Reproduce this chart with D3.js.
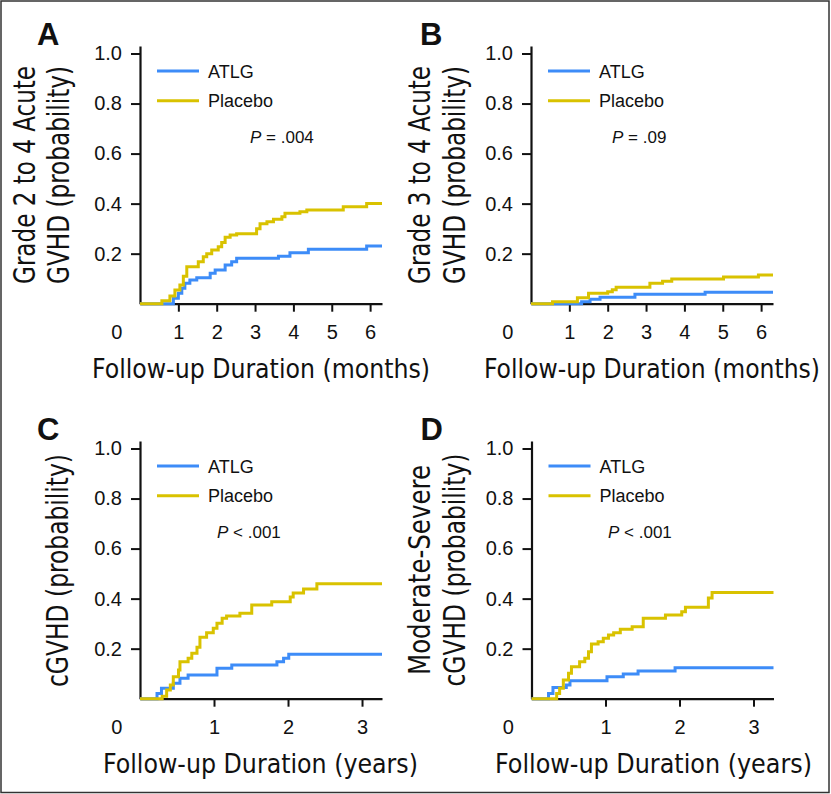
<!DOCTYPE html>
<html>
<head>
<meta charset="utf-8">
<script src="https://d3js.org/d3.v7.min.js"></script>
<style>
  body { margin: 0; background: #fff; }
  text { font-family: "Liberation Sans", Arial, sans-serif; fill: #111; }
  .title { font-family: "Liberation Sans Narrow", "DejaVu Sans Condensed", sans-serif; }
</style>
</head>
<body>
<div id="chart"></div>
<script>
// cumulative incidence step points: [time, probability]
const atlgA = [[0.87, 0.022], [1.0, 0.042], [1.09, 0.062], [1.17, 0.082], [1.30, 0.095], [1.48, 0.104],
  [1.83, 0.122], [1.96, 0.135], [2.22, 0.155], [2.39, 0.168], [2.52, 0.182], [3.61, 0.19],
  [3.91, 0.204], [4.39, 0.218], [5.91, 0.231]]
const placeboA = [[0.57, 0.012], [0.78, 0.031], [0.91, 0.055], [1.04, 0.075], [1.13, 0.11], [1.22, 0.148],
  [1.52, 0.168], [1.65, 0.188], [1.74, 0.2], [1.87, 0.215], [2.04, 0.228], [2.13, 0.245],
  [2.22, 0.266], [2.35, 0.275], [2.52, 0.28], [3.04, 0.30], [3.13, 0.32], [3.31, 0.328],
  [3.48, 0.338], [3.70, 0.348], [3.78, 0.362], [4.17, 0.368], [4.35, 0.375], [5.30, 0.388], [5.91, 0.40]]

const atlgB = [[1.32, 0.008], [1.54, 0.018], [1.80, 0.026], [2.71, 0.038], [4.54, 0.046]]
const placeboB = [[0.56, 0.008], [1.21, 0.024], [1.50, 0.042], [2.0, 0.048], [2.12, 0.056], [2.22, 0.066],
  [3.10, 0.082], [3.43, 0.09], [3.67, 0.099], [5.02, 0.107], [5.93, 0.115]]

const atlgC = [[0.23, 0.021], [0.29, 0.042], [0.45, 0.062], [0.54, 0.082], [0.65, 0.095], [1.04, 0.122],
  [1.24, 0.135], [1.85, 0.148], [1.94, 0.162], [2.01, 0.178]]
const placeboC = [[0.30, 0.01], [0.36, 0.035], [0.41, 0.055], [0.45, 0.088], [0.52, 0.115], [0.54, 0.148],
  [0.65, 0.162], [0.70, 0.182], [0.77, 0.206], [0.81, 0.246], [0.90, 0.264], [0.99, 0.282],
  [1.04, 0.302], [1.11, 0.322], [1.17, 0.331], [1.35, 0.342], [1.51, 0.375], [1.78, 0.388],
  [2.03, 0.406], [2.07, 0.422], [2.21, 0.438], [2.39, 0.459]]

const atlgD = [[0.23, 0.021], [0.29, 0.045], [0.47, 0.055], [0.52, 0.072], [1.02, 0.088], [1.24, 0.099],
  [1.44, 0.111], [1.94, 0.124]]
const placeboD = [[0.34, 0.021], [0.38, 0.042], [0.43, 0.075], [0.50, 0.102], [0.54, 0.128], [0.65, 0.148],
  [0.72, 0.162], [0.77, 0.188], [0.81, 0.219], [0.90, 0.228], [0.97, 0.242], [1.04, 0.255],
  [1.11, 0.264], [1.20, 0.278], [1.36, 0.288], [1.51, 0.322], [1.81, 0.335], [2.03, 0.348],
  [2.08, 0.366], [2.39, 0.402], [2.44, 0.424]]

const monthTicks = [1, 2, 3, 4, 5, 6]
const yearTicks = [1, 2, 3]
const probTicks = [0.2, 0.4, 0.6, 0.8, 1.0]
const seriesNames = ["ATLG", "Placebo"]
const colors = ["#3d8cf8", "#d9c200"]

const panels = [
  { letter: "A", atlg: atlgA, placebo: placeboA, xMax: 6.31, xTicks: monthTicks, pText: ["P", " = .004"],
    yTitle: ["Grade 2 to 4 Acute", "GVHD (probability)"], xTitle: "Follow-up Duration (months)",
    ox: 140, oy: 0, letterDx: -103, pDx: 110, yTitleDx: [-105, -71], yTitleW: [218, 218],
    xTitleCx: 261, xTitleW: 338 },
  { letter: "B", atlg: atlgB, placebo: placeboB, xMax: 6.31, xTicks: monthTicks, pText: ["P", " = .09"],
    yTitle: ["Grade 3 to 4 Acute", "GVHD (probability)"], xTitle: "Follow-up Duration (months)",
    ox: 531, oy: 0, letterDx: -111, pDx: 81, yTitleDx: [-101, -66], yTitleW: [218, 218],
    xTitleCx: 652, xTitleW: 336 },
  { letter: "C", atlg: atlgC, placebo: placeboC, xMax: 3.27, xTicks: yearTicks, pText: ["P", " < .001"],
    yTitle: ["cGVHD (probability)"], xTitle: "Follow-up Duration (years)",
    ox: 140, oy: 395, letterDx: -103, pDx: 77, yTitleDx: [-72], yTitleW: [233],
    xTitleCx: 260.5, xTitleW: 315 },
  { letter: "D", atlg: atlgD, placebo: placeboD, xMax: 3.27, xTicks: yearTicks, pText: ["P", " < .001"],
    yTitle: ["Moderate-Severe", "cGVHD (probability)"], xTitle: "Follow-up Duration (years)",
    ox: 531.5, oy: 395, letterDx: -111, pDx: 76.5, yTitleDx: [-101.5, -66.5], yTitleW: [210, 233],
    xTitleCx: 653.5, xTitleW: 317 }
]

const width = 831, height = 794
const plotW = 242, plotBottom = 303.7, plotTop = 46

const svg = d3.select("#chart").append("svg")
  .attr("width", width)
  .attr("height", height)

svg.append("rect")
  .attr("x", 1).attr("y", 1)
  .attr("width", 828).attr("height", 791.5)
  .attr("fill", "none").attr("stroke", "#333").attr("stroke-width", 1.5)

function drawPanel(p) {
  const g = svg.append("g").attr("transform", `translate(${p.ox},${p.oy})`)

  const x = d3.scaleLinear().domain([0, p.xMax]).range([0, plotW])
  const y = d3.scaleLinear().domain([0, 1.03]).range([plotBottom, plotTop])

  // axes
  const xAxis = g.append("g")
    .attr("transform", `translate(0,${plotBottom})`)
    .call(d3.axisBottom(x).tickValues(p.xTicks).tickSize(8).tickSizeOuter(0).tickPadding(13)
      .tickFormat(d3.format("d")))
  const yAxis = g.append("g")
    .call(d3.axisLeft(y).tickValues(probTicks).tickSize(9).tickSizeOuter(0).tickPadding(9)
      .tickFormat(d3.format(".1f")))

  for (const ax of [xAxis, yAxis]) {
    ax.attr("font-size", null).attr("font-family", null)
    ax.select(".domain").attr("stroke", "#111").attr("stroke-width", 2.2)
    ax.selectAll(".tick line").attr("stroke", "#111").attr("stroke-width", 2)
    ax.selectAll(".tick text")
      .style("font-size", "20px").attr("fill", "#111")
  }

  g.append("text")
    .attr("x", -23.3).attr("y", 339)
    .attr("text-anchor", "middle")
    .style("font-size", "20px")
    .text("0")

  // curves
  const line = d3.line()
    .x(d => x(d[0]))
    .y(d => y(d[1]))
    .curve(d3.curveStepAfter)

  const curves = [p.atlg, p.placebo]
  curves.forEach((pts, i) => {
    const last = pts[pts.length - 1]
    const full = [[0, 0], ...pts, [p.xMax, last[1]]]
    g.append("path")
      .datum(full)
      .attr("d", line)
      .attr("fill", "none")
      .attr("stroke", colors[i])
      .attr("stroke-width", 3)
  })

  // legend
  seriesNames.forEach((name, i) => {
    const ly = 71 + i * 29.7
    g.append("line")
      .attr("x1", 17).attr("x2", 59)
      .attr("y1", ly).attr("y2", ly)
      .attr("stroke", colors[i]).attr("stroke-width", 3)
    g.append("text")
      .attr("x", 68).attr("y", ly + 6.5)
      .style("font-size", "18px")
      .text(name)
  })

  const pt = g.append("text")
    .attr("x", p.pDx).attr("y", 143)
    .style("font-size", "17px")
  pt.append("tspan").style("font-style", "italic").text(p.pText[0])
  pt.append("tspan").text(p.pText[1])

  // panel letter
  g.append("text")
    .attr("x", p.letterDx).attr("y", 45)
    .style("font-size", "31px").style("font-weight", "bold")
    .text(p.letter)

  // y title
  p.yTitle.forEach((t, i) => {
    g.append("text")
      .attr("class", "title")
      .attr("transform", `translate(${p.yTitleDx[i]},${p.yTitle.length === 1 ? 175.5 : 175}) rotate(-90)`)
      .attr("text-anchor", "middle")
      .attr("textLength", p.yTitleW[i])
      .attr("lengthAdjust", "spacingAndGlyphs")
      .style("font-size", "30px")
      .text(t)
  })

  // x title
  g.append("text")
    .attr("class", "title")
    .attr("x", p.xTitleCx - p.ox).attr("y", 377.5)
    .attr("text-anchor", "middle")
    .attr("textLength", p.xTitleW)
    .attr("lengthAdjust", "spacingAndGlyphs")
    .style("font-size", "27px")
    .text(p.xTitle)
}

panels.forEach(drawPanel)
</script>
</body>
</html>
